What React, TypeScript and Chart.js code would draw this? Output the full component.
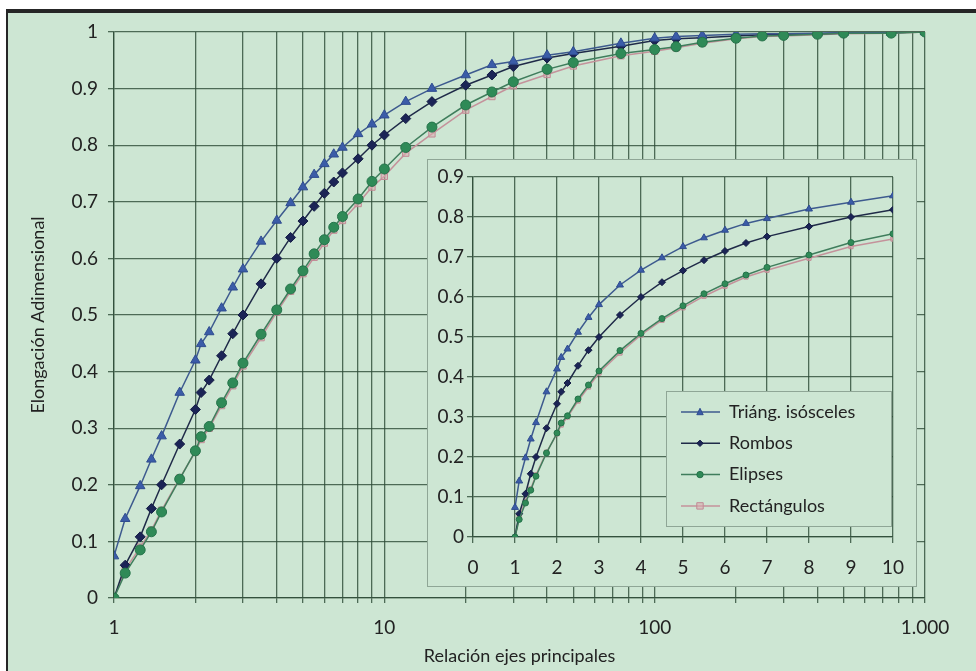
import React, { useEffect, useRef } from 'react';
import { Chart, registerables } from 'chart.js';
Chart.register(...registerables);

// ---- data ----
const seriesNames = ['Triáng. isósceles', 'Rombos', 'Elipses', 'Rectángulos'];
const xValues = [1, 1.1, 1.25, 1.375, 1.5, 1.75, 2, 2.1, 2.25, 2.5, 2.75, 3, 3.5, 4, 4.5, 5, 5.5, 6, 6.5, 7, 8, 9, 10, 12, 15, 20, 25, 30, 40, 50, 75, 100, 120, 150, 200, 250, 300, 400, 500, 750, 1000];
const triangulos = [0.074, 0.14, 0.198, 0.245, 0.286, 0.363, 0.42, 0.449, 0.47, 0.512, 0.549, 0.581, 0.63, 0.667, 0.698, 0.726, 0.748, 0.767, 0.784, 0.796, 0.82, 0.837, 0.853, 0.877, 0.9, 0.924, 0.942, 0.948, 0.959, 0.965, 0.98, 0.989, 0.992, 0.994, 0.996, 0.997, 0.997, 0.998, 0.999, 0.999, 1.0];
const rombos = [0, 0.058, 0.108, 0.158, 0.2, 0.272, 0.333, 0.363, 0.385, 0.428, 0.467, 0.5, 0.555, 0.6, 0.637, 0.666, 0.692, 0.715, 0.735, 0.751, 0.776, 0.8, 0.818, 0.847, 0.877, 0.906, 0.924, 0.939, 0.954, 0.962, 0.975, 0.985, 0.988, 0.99, 0.993, 0.995, 0.996, 0.997, 0.998, 0.999, 1.0];
const elipses = [0, 0.044, 0.085, 0.117, 0.152, 0.21, 0.26, 0.285, 0.303, 0.345, 0.38, 0.415, 0.466, 0.509, 0.546, 0.578, 0.608, 0.633, 0.655, 0.674, 0.705, 0.736, 0.758, 0.796, 0.832, 0.871, 0.894, 0.912, 0.934, 0.946, 0.962, 0.969, 0.974, 0.982, 0.989, 0.993, 0.994, 0.996, 0.998, 0.998, 1.0];
const rectangulos = [0, 0.05, 0.09, 0.12, 0.155, 0.212, 0.258, 0.28, 0.3, 0.34, 0.375, 0.41, 0.46, 0.505, 0.542, 0.573, 0.602, 0.627, 0.65, 0.667, 0.697, 0.726, 0.745, 0.786, 0.82, 0.862, 0.886, 0.905, 0.925, 0.94, 0.958, 0.966, 0.972, 0.98, 0.988, 0.992, 0.993, 0.995, 0.997, 0.998, 1.0];
const mainYTicks = [0, 0.1, 0.2, 0.3, 0.4, 0.5, 0.6, 0.7, 0.8, 0.9, 1];
const mainXLabels: Record<number, string> = { 1: '1', 10: '10', 100: '100', 1000: '1.000' };
const insetXMax = 10;
const insetYMax = 0.9;
const mainXTitle = 'Relación ejes principales';
const mainYTitle = 'Elongación Adimensional';

// ---- styles ----
const BG = '#cde6d3';
const GRID = 'rgba(45,75,55,0.8)';
const TEXT = '#222';
const FONT = 'Lato';
const styles = [
  { line: '#3d5a8e', fill: '#3b5ca8', border: '#2f4c8f', shape: 'triangle', rMain: 5.5, rInset: 4 },
  { line: '#1f2a48', fill: '#1b2456', border: '#141c44', shape: 'rectRot', rMain: 5, rInset: 3.5 },
  { line: '#3f7d5c', fill: '#2f8a57', border: '#25734a', shape: 'circle', rMain: 5, rInset: 3 },
  { line: '#c4929b', fill: 'rgba(220,170,175,0.55)', border: '#c28a95', shape: 'rect', rMain: 4.5, rInset: 3 },
];
const seriesData = [triangulos, rombos, elipses, rectangulos];
const drawOrder = [1, 2, 0, 3];

function buildDatasets(inset: boolean) {
  return seriesData.map((vals, i) => {
    const s = styles[i];
    const pts = xValues
      .map((x, j) => ({ x, y: vals[j] }))
      .filter((p) => !inset || p.x <= insetXMax);
    return {
      label: seriesNames[i],
      data: pts,
      borderColor: s.line,
      borderWidth: 1.5,
      pointStyle: s.shape,
      pointRadius: inset ? s.rInset : s.rMain,
      pointBackgroundColor: s.fill,
      pointBorderColor: s.border,
      pointBorderWidth: 1,
      tension: 0,
      showLine: true,
      order: drawOrder[i],
    };
  });
}

const mainXTicksList: number[] = [];
[1, 10, 100].forEach((d) => {
  for (let k = 1; k < 10; k++) mainXTicksList.push(d * k);
});
mainXTicksList.push(1000);

const insetLegendPlugin = {
  id: 'insetLegend',
  afterDraw(chart: any) {
    const ctx = chart.ctx;
    ctx.save();
    const bx = 239.5, by = 232.5, bw = 225, bh = 135;
    ctx.fillStyle = BG;
    ctx.fillRect(bx, by, bw, bh);
    ctx.strokeStyle = '#8fa696';
    ctx.lineWidth = 1;
    ctx.strokeRect(bx, by, bw, bh);
    seriesNames.forEach((name, i) => {
      const s = styles[i];
      const y = 253 + i * 31.3;
      ctx.strokeStyle = s.line;
      ctx.lineWidth = 1.5;
      ctx.beginPath();
      ctx.moveTo(254, y);
      ctx.lineTo(293, y);
      ctx.stroke();
      ctx.fillStyle = s.fill;
      ctx.strokeStyle = s.border;
      ctx.lineWidth = 1;
      const cx = 273, r = 3.2;
      ctx.beginPath();
      if (s.shape === 'triangle') {
        ctx.moveTo(cx, y - r - 0.5);
        ctx.lineTo(cx + r, y + r - 0.5);
        ctx.lineTo(cx - r, y + r - 0.5);
        ctx.closePath();
      } else if (s.shape === 'rectRot') {
        ctx.moveTo(cx, y - r);
        ctx.lineTo(cx + r, y);
        ctx.lineTo(cx, y + r);
        ctx.lineTo(cx - r, y);
        ctx.closePath();
      } else if (s.shape === 'circle') {
        ctx.arc(cx, y, r, 0, Math.PI * 2);
      } else {
        ctx.rect(cx - r, y - r, 2 * r, 2 * r);
      }
      ctx.fill();
      ctx.stroke();
      ctx.fillStyle = TEXT;
      ctx.font = `18px ${FONT}`;
      ctx.textBaseline = 'middle';
      ctx.textAlign = 'left';
      ctx.fillText(name, 302, y);
    });
    ctx.restore();
  },
};

const insetBgPlugin = {
  id: 'insetBg',
  beforeDraw(chart: any) {
    const ctx = chart.ctx;
    ctx.save();
    ctx.fillStyle = BG;
    ctx.fillRect(0, 0, chart.width, chart.height);
    ctx.strokeStyle = '#8fa696';
    ctx.lineWidth = 1;
    ctx.strokeRect(0.5, 0.5, chart.width - 1, chart.height - 1);
    ctx.restore();
  },
};

function fmtY(v: number) {
  if (Math.abs(v) < 1e-9) return '0';
  if (Math.abs(v - 1) < 1e-9) return '1';
  return v.toFixed(1);
}

export default function App() {
  const mainRef = useRef<HTMLCanvasElement>(null);
  const insetRef = useRef<HTMLCanvasElement>(null);

  useEffect(() => {
    const main = new Chart(mainRef.current!, {
      type: 'line',
      data: { datasets: buildDatasets(false) as any },
      options: {
        responsive: false,
        animation: false,
        events: [],
        layout: { padding: { left: 0, top: 32, right: 51, bottom: 0 } },
        plugins: { legend: { display: false }, tooltip: { enabled: false } },
        scales: {
          x: {
            type: 'logarithmic',
            min: 1,
            max: 1000,
            afterBuildTicks: (scale: any) => {
              scale.ticks = mainXTicksList.map((v) => ({ value: v }));
            },
            afterFit: (scale: any) => {
              scale.height = 73;
            },
            ticks: {
              autoSkip: false,
              maxRotation: 0,
              minRotation: 0,
              padding: 13,
              color: TEXT,
              font: { family: FONT, size: 19 },
              callback: (v: any) => mainXLabels[Number(v)] ?? '',
            },
            grid: { color: GRID, lineWidth: 1.3, tickLength: 5 },
            border: { color: GRID, width: 1.3 },
            title: {
              display: true,
              text: mainXTitle,
              color: TEXT,
              font: { family: FONT, size: 18 },
              padding: { top: 0, bottom: 4 },
            },
          },
          y: {
            type: 'linear',
            min: 0,
            max: 1,
            afterBuildTicks: (scale: any) => {
              scale.ticks = mainYTicks.map((v) => ({ value: v }));
            },
            afterFit: (scale: any) => {
              scale.width = 114;
            },
            ticks: {
              padding: 10,
              color: TEXT,
              font: { family: FONT, size: 19 },
              callback: (v: any) => fmtY(Number(v)),
            },
            grid: { color: GRID, lineWidth: 1.3, tickLength: 6 },
            border: { color: GRID, width: 1.3 },
            title: {
              display: true,
              text: mainYTitle,
              color: TEXT,
              font: { family: FONT, size: 18 },
              padding: { top: 27, bottom: 0 },
            },
          },
        },
      } as any,
    });

    const insetTicksY: number[] = [];
    for (let k = 0; k <= 9; k++) insetTicksY.push(k / 10);

    const inset = new Chart(insetRef.current!, {
      type: 'line',
      data: { datasets: buildDatasets(true) as any },
      options: {
        responsive: false,
        animation: false,
        events: [],
        layout: { padding: { left: 0, top: 18, right: 15, bottom: 0 } },
        plugins: { legend: { display: false }, tooltip: { enabled: false } },
        scales: {
          x: {
            type: 'linear',
            min: 0,
            max: insetXMax,
            afterFit: (scale: any) => {
              scale.height = 50;
            },
            ticks: {
              stepSize: 1,
              autoSkip: false,
              maxRotation: 0,
              padding: 13,
              color: TEXT,
              font: { family: FONT, size: 19 },
            },
            grid: { color: GRID, lineWidth: 1.3, tickLength: 6 },
            border: { color: GRID, width: 1.3 },
          },
          y: {
            type: 'linear',
            min: 0,
            max: insetYMax,
            afterBuildTicks: (scale: any) => {
              scale.ticks = insetTicksY.map((v) => ({ value: v }));
            },
            afterFit: (scale: any) => {
              scale.width = 46;
            },
            ticks: {
              padding: 3,
              color: TEXT,
              font: { family: FONT, size: 19 },
              callback: (v: any) => fmtY(Number(v)),
            },
            grid: { color: GRID, lineWidth: 1.3, tickLength: 6 },
            border: { color: GRID, width: 1.3 },
          },
        },
      } as any,
      plugins: [insetBgPlugin, insetLegendPlugin] as any,
    });

    return () => {
      main.destroy();
      inset.destroy();
    };
  }, []);

  return (
    <div style={{ position: 'fixed', left: 0, top: 0, width: 976, height: 671, background: '#ffffff', overflow: 'hidden' }}>
      <div style={{ position: 'absolute', left: 6, top: 9, width: 970, height: 662, background: '#262626' }} />
      <div style={{ position: 'absolute', left: 8, top: 13, width: 968, height: 658, background: BG }} />
      <canvas ref={mainRef} width={976} height={671} style={{ position: 'absolute', left: 0, top: 0, width: 976, height: 671 }} />
      <canvas ref={insetRef} width={490} height={428} style={{ position: 'absolute', left: 427, top: 159, width: 490, height: 428 }} />
    </div>
  );
}
